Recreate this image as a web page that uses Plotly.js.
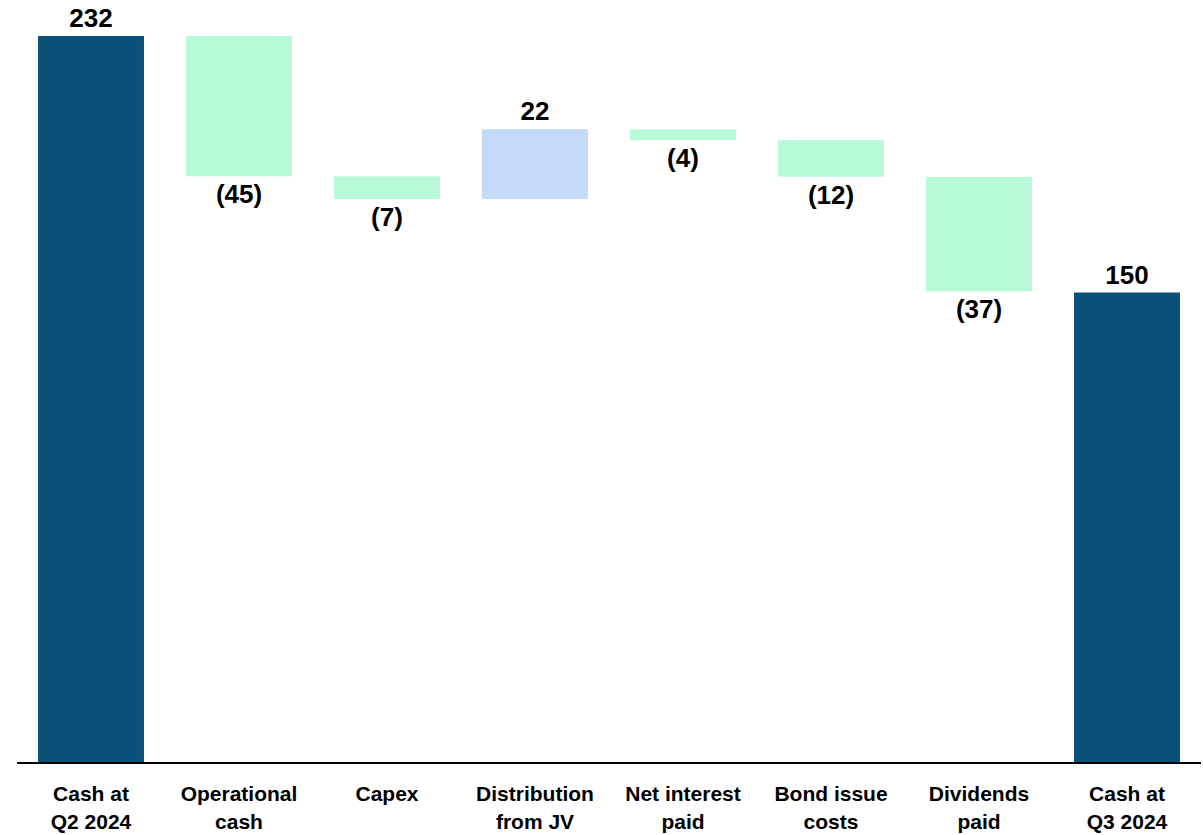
<!DOCTYPE html>
<html>
<head>
<meta charset="utf-8">
<script src="https://cdn.plot.ly/plotly-3.0.1.min.js"></script>
<style>html,body{margin:0;padding:0;background:#fff;}#chart{width:1203px;height:835px;}</style>
</head>
<body>
<div id="chart"></div>
<script>
const categories = ["Cash at<br>Q2 2024", "Operational<br>cash", "Capex", "Distribution<br>from JV", "Net interest<br>paid", "Bond issue<br>costs", "Dividends<br>paid", "Cash at<br>Q3 2024"];
const values = [232, -44.8, -7.3, 22.3, -3.5, -11.7, -36.6, 150];
const measures = ["absolute", "relative", "relative", "relative", "relative", "relative", "relative", "absolute"];
const labels = ["232", "(45)", "(7)", "22", "(4)", "(12)", "(37)", "150"];

const trace = {
  type: "waterfall",
  x: categories,
  y: values,
  measure: measures,
  text: labels,
  textposition: "outside",
  textfont: {family: "Liberation Sans, Arial, sans-serif", size: 26, color: "#000", weight: "bold"},
  cliponaxis: false,
  connector: {visible: false},
  increasing: {marker: {color: "#C5D9F8"}},
  decreasing: {marker: {color: "#B8FAD8"}},
  totals: {marker: {color: "#0A5079"}},
  hoverinfo: "skip"
};

const layout = {
  width: 1203, height: 835,
  margin: {l: 17, r: 2, t: 11, b: 73},
  paper_bgcolor: "#fff", plot_bgcolor: "#fff",
  showlegend: false,
  waterfallgap: 0.284,
  font: {family: "Liberation Sans, Arial, sans-serif", color: "#000"},
  xaxis: {
    type: "category",
    showline: true, linecolor: "#000", linewidth: 2,
    ticks: "outside", ticklen: 12, tickcolor: "rgba(0,0,0,0)",
    showgrid: false, zeroline: false,
    tickfont: {size: 21, family: "Liberation Sans, Arial, sans-serif", color: "#000", weight: "bold"}
  },
  yaxis: {
    range: [0, 240], visible: false, showgrid: false, zeroline: false, fixedrange: true
  }
};

Plotly.newPlot("chart", [trace], layout, {displayModeBar: false, staticPlot: true});
</script>
</body>
</html>
